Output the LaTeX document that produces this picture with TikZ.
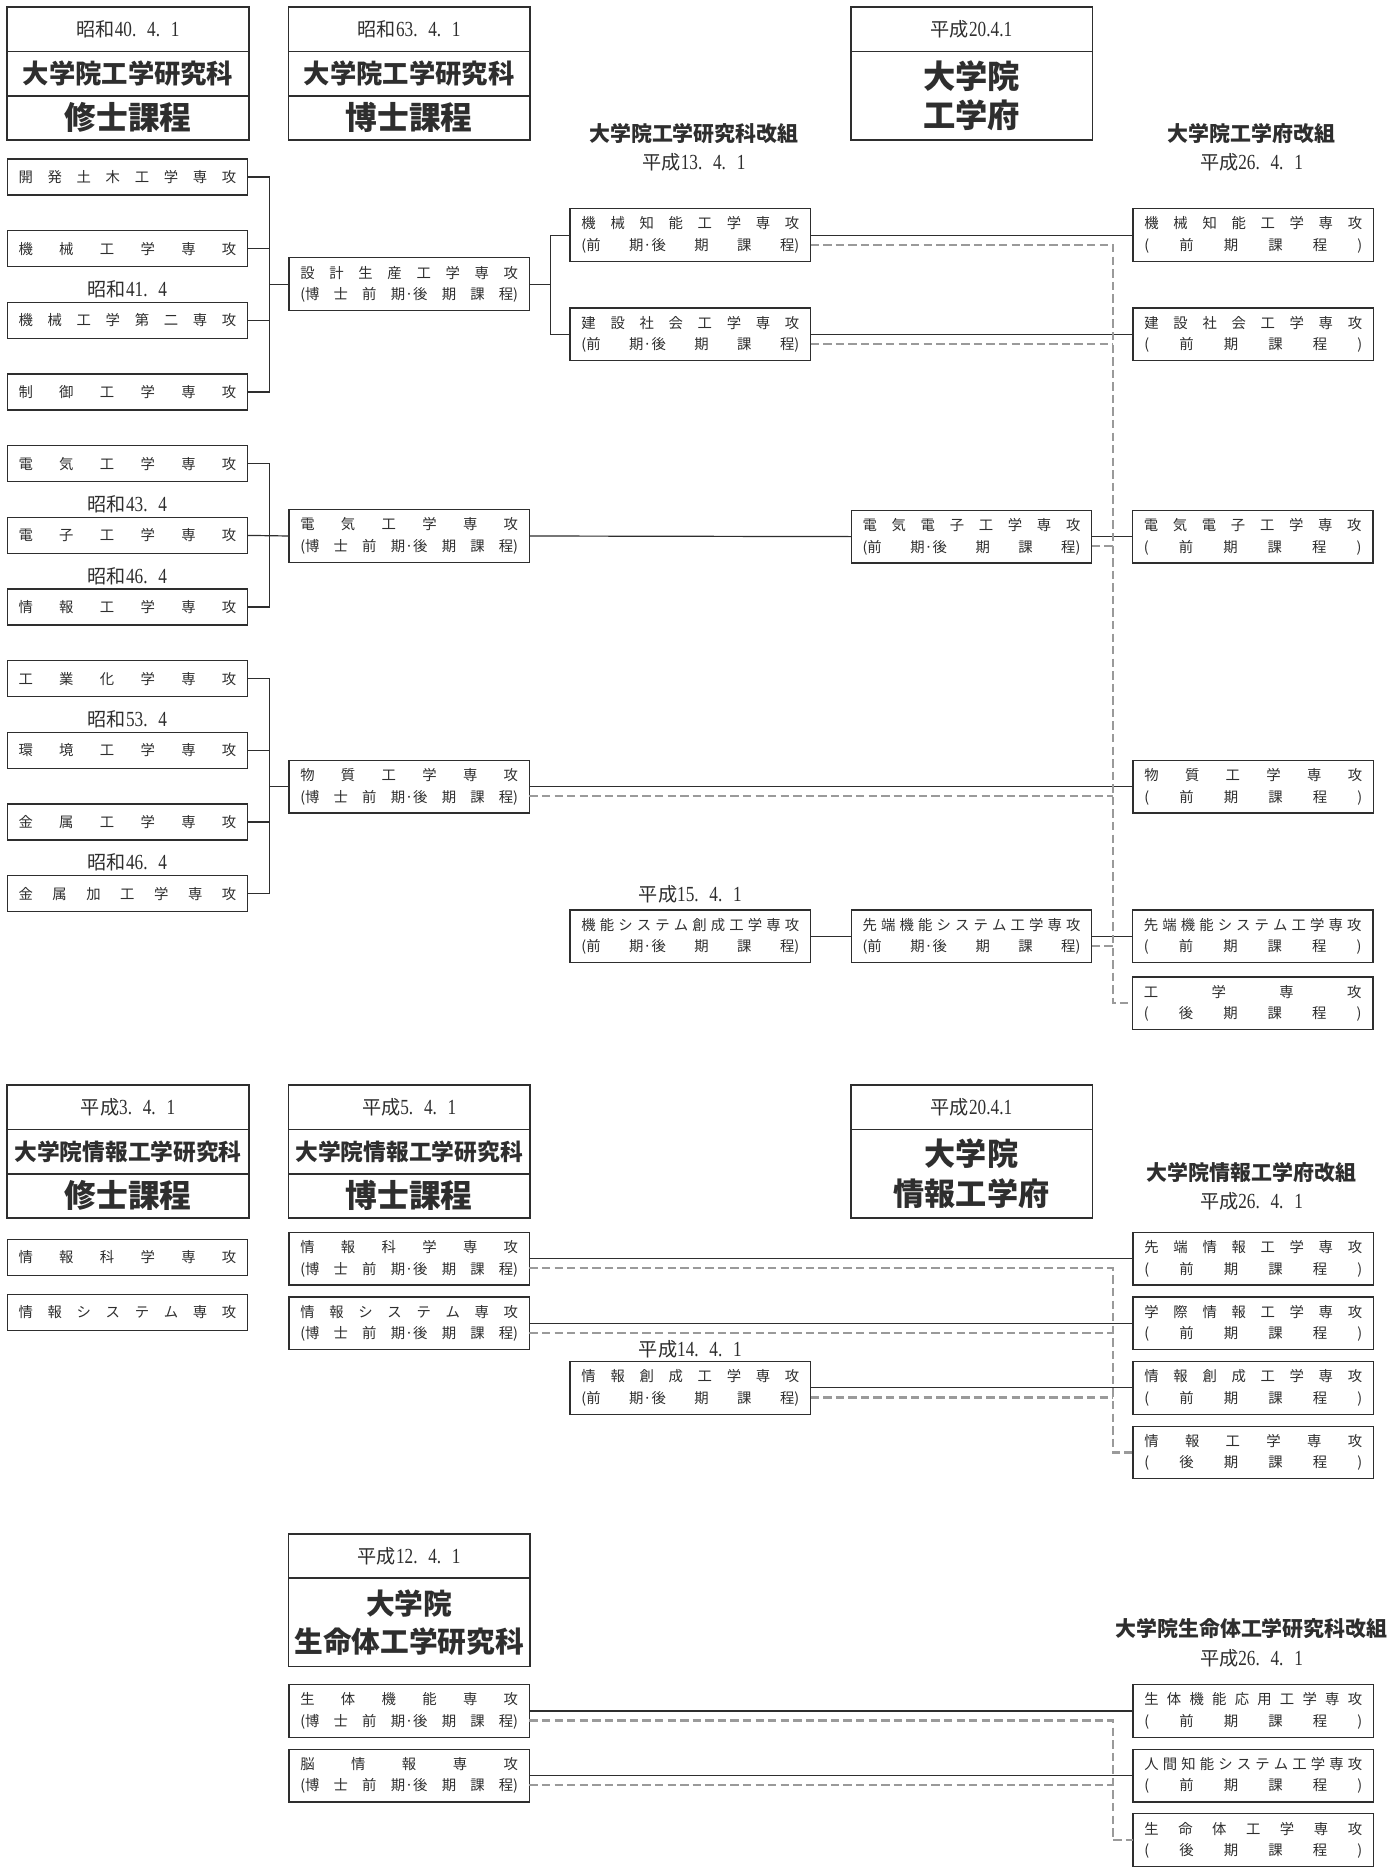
\documentclass[tikz,border=0pt]{standalone}
\usepackage{fontspec}
\setmainfont{Liberation Serif}
\newfontfamily\jpfont{Noto Sans CJK JP}
\newfontfamily\digitfont[FakeStretch=0.8]{Liberation Serif}
\usetikzlibrary{positioning}
\definecolor{ink}{HTML}{2E2E2E}
\definecolor{trace}{HTML}{9A9A9A}
\newlength\txtw \setlength\txtw{182pt}
\makeatletter
\newcommand\spread[1]{\def\sp@sep{\def\sp@sep{\hfill}}\@tfor\sp@item:=#1\do{\sp@sep\sp@item}}
\makeatother
\newcommand\one[1]{\makebox[\txtw][s]{\spread{#1}}}
\newcommand\era[2]{{\fontsize{16}{18}\selectfont#1}{\digitfont\fontsize{18}{18}\selectfont#2}}
\newcommand\hakase{\one{{(博}士前{期·後}期課{程)}}}
\newcommand\zenkou{\one{{(前}{期·後}期課{程)}}}
\newcommand\zenki{\one{(前期課程)}}
\newcommand\kouki{\one{(後期課程)}}

\begin{document}
\begin{tikzpicture}[x=1pt, y=-1pt, node distance=29.9pt and 34pt,
  every node/.style={font=\jpfont\fontsize{12}{18}\selectfont, text=ink},
  head/.style={draw=ink, line width=1.4pt, outer sep=0pt, minimum width=202pt, minimum height=37pt, inner sep=0pt},
  dept/.style={font=\jpfont\bfseries\fontsize{22}{26}\selectfont},
  degree/.style={font=\jpfont\bfseries\fontsize{26.5}{30}\selectfont},
  school/.style={head, minimum height=74pt, align=center, font=\jpfont\bfseries\fontsize{27}{33}\selectfont},
  kaiso/.style={font=\jpfont\bfseries\fontsize{17.5}{20}\selectfont},
  major/.style={draw=ink, line width=1.1pt, outer sep=0pt, minimum width=201pt, minimum height=30pt, inner sep=0pt},
  course/.style={major, minimum height=44pt, align=center},
  wire/.style={draw=ink, line width=1pt},
  moved/.style={draw=trace, line width=1.8pt, dash pattern=on 7pt off 3.5pt}]
\path[use as bounding box, fill=white] (0,0) rectangle (1163,1568);
\coordinate (brk1) at (225,0);
\coordinate (brk2) at (460,0);
\coordinate (trunk) at (930,0);

% engineering, headers
\node[head] (msdate) at (107,24.5) {\era{昭和}{40.\enspace4.\enspace1}};
\node[head,dept,below=0pt of msdate] (msname) {大学院工学研究科};
\node[head,degree,below=0pt of msname] (mscourse) {修士課程};
\node[head] (drdate) at (342,24.5) {\era{昭和}{63.\enspace4.\enspace1}};
\node[head,dept,below=0pt of drdate] (drname) {大学院工学研究科};
\node[head,degree,below=0pt of drname] (drcourse) {博士課程};
\node[head] (fudate) at (812,24.5) {\era{平成}{20.4.1}};
\node[school,below=0pt of fudate] (funame) {大学院\\工学府};
\node[kaiso] (kaisoK) at (580,112) {大学院工学研究科改組};
\node (h13) at (580,136) {\era{平成}{13.\enspace4.\enspace1}};
\node[kaiso] (kaisoF) at (1046,112) {大学院工学府改組};
\node (h26a) at (1046,136) {\era{平成}{26.\enspace4.\enspace1}};

% master's majors
\node[major] (kaihatsu) at (106.5,148) {\one{開発土木工学専攻}};
\node[major,below=of kaihatsu] (kikai) {\one{機械工学専攻}};
\node[major,below=of kikai] (kikai2) {\one{機械工学第二専攻}};
\node[major,below=of kikai2] (seigyo) {\one{制御工学専攻}};
\node[major,below=of seigyo] (denki) {\one{電気工学専攻}};
\node[major,below=of denki] (denshi) {\one{電子工学専攻}};
\node[major,below=of denshi] (jouhou) {\one{情報工学専攻}};
\node[major,below=of jouhou] (kougyou) {\one{工業化学専攻}};
\node[major,below=of kougyou] (kankyou) {\one{環境工学専攻}};
\node[major,below=of kankyou] (kinzoku) {\one{金属工学専攻}};
\node[major,below=of kinzoku] (kakou) {\one{金属加工学専攻}};
\node (s41) at ([yshift=11pt]kikai2.north) {\era{昭和}{41.\enspace4}};
\node (s43) at ([yshift=11pt]denshi.north) {\era{昭和}{43.\enspace4}};
\node (s46a) at ([yshift=11pt]jouhou.north) {\era{昭和}{46.\enspace4}};
\node (s53) at ([yshift=11pt]kankyou.north) {\era{昭和}{53.\enspace4}};
\node (s46b) at ([yshift=11pt]kakou.north) {\era{昭和}{46.\enspace4}};

% doctoral and later majors
\node[course] (setsu) at (342,237.5) {\one{設計生産工学専攻}\\\hakase};
\node[course] (denkiB) at (342,448) {\one{電気工学専攻}\\\hakase};
\node[course] (butsuB) at (342,657.5) {\one{物質工学専攻}\\\hakase};
\node[course] (kikaiC) at (577,196.5) {\one{機械知能工学専攻}\\\zenkou};
\node[course] (kensetsuC) at (577,279.5) {\one{建設社会工学専攻}\\\zenkou};
\node[course] (kinouC) at (577,782.5) {\one{機能システム創成工学専攻}\\\zenkou};
\node (h15) at ([yshift=13pt]kinouC.north) {\era{平成}{15.\enspace4.\enspace1}};
\node[course] (denkiD) at (812,448.5) {\one{電気電子工学専攻}\\\zenkou};
\node[course,right=of kinouC] (sentanD) {\one{先端機能システム工学専攻}\\\zenkou};
\node[course] (kikaiE) at (1047.5,196.5) {\one{機械知能工学専攻}\\\zenki};
\node[course] (kensetsuE) at (1047.5,279.5) {\one{建設社会工学専攻}\\\zenki};
\node[course,right=of denkiD] (denkiE) {\one{電気電子工学専攻}\\\zenki};
\node[course] (butsuE) at (1047.5,657.5) {\one{物質工学専攻}\\\zenki};
\node[course,right=of sentanD] (sentanE) {\one{先端機能システム工学専攻}\\\zenki};
\node[course,below=12pt of sentanE] (kougakuE) {\one{工学専攻}\\\kouki};

\draw[wire] (kaihatsu.east) -| (seigyo.east -| brk1) -- (seigyo.east);
\draw[wire] (kikai.east) -- (kikai.east -| brk1); \draw[wire] (kikai2.east) -- (kikai2.east -| brk1);
\draw[wire] (setsu.west -| brk1) -- (setsu.west);
\draw[wire] (denki.east) -| (jouhou.east -| brk1) -- (jouhou.east);
\draw[wire] (denshi.east) -- (denkiB.west);
\draw[wire] (kougyou.east) -| (kakou.east -| brk1) -- (kakou.east);
\draw[wire] (kankyou.east) -- (kankyou.east -| brk1); \draw[wire] (kinzoku.east) -- (kinzoku.east -| brk1);
\draw[wire] (butsuB.west -| brk1) -- (butsuB.west);
\draw[wire] (setsu.east) -- (setsu.east -| brk2);
\draw[wire] (kikaiC.west) -| (kensetsuC.west -| brk2) -- (kensetsuC.west);
\draw[wire] (kikaiC.east) -- (kikaiE.west); \draw[wire] (kensetsuC.east) -- (kensetsuE.west);
\draw[wire] (denkiB.east) -- (denkiD.west); \draw[wire] (denkiD.east) -- (denkiE.west);
\draw[wire] (butsuB.east) -- (butsuE.west);
\draw[wire] (kinouC.east) -- (sentanD.west); \draw[wire] (sentanD.east) -- (sentanE.west);

\coordinate (kikaiCd) at ([yshift=-8pt]kikaiC.east);
\coordinate (kensetsuCd) at ([yshift=-8pt]kensetsuC.east);
\coordinate (denkiDd) at ([yshift=-8pt]denkiD.east);
\coordinate (butsuBd) at ([yshift=-8pt]butsuB.east);
\coordinate (sentanDd) at ([yshift=-8pt]sentanD.east);
\draw[moved] (kikaiCd) -| (kougakuE.west -| trunk) -- (kougakuE.west);
\draw[moved] (kensetsuCd) -- (kensetsuCd -| trunk);
\draw[moved] (denkiDd) -- (denkiDd -| trunk);
\draw[moved] (butsuBd) -- (butsuBd -| trunk);
\draw[moved] (sentanDd) -- (sentanDd -| trunk);

% information engineering
\node[head] (imdate) at (107,925.5) {\era{平成}{3.\enspace4.\enspace1}};
\node[head,dept,font=\jpfont\bfseries\fontsize{19}{22}\selectfont,below=0pt of imdate] (imname) {大学院情報工学研究科};
\node[head,degree,below=0pt of imname] (imcourse) {修士課程};
\node[head] (iddate) at (342,925.5) {\era{平成}{5.\enspace4.\enspace1}};
\node[head,dept,font=\jpfont\bfseries\fontsize{19}{22}\selectfont,below=0pt of iddate] (idname) {大学院情報工学研究科};
\node[head,degree,below=0pt of idname] (idcourse) {博士課程};
\node[head] (ifdate) at (812,925.5) {\era{平成}{20.4.1}};
\node[school,font=\jpfont\bfseries\fontsize{26}{33}\selectfont,below=0pt of ifdate] (ifname) {大学院\\情報工学府};
\node[kaiso] (kaisoI) at (1046,980) {大学院情報工学府改組};
\node (h26b) at (1046,1004) {\era{平成}{26.\enspace4.\enspace1}};

\node[major] (jkagaku) at (106.5,1051) {\one{情報科学専攻}};
\node[major,below=16pt of jkagaku] (jsys) {\one{情報システム専攻}};
\node[course] (jkagakuB) at (342,1052) {\one{情報科学専攻}\\\hakase};
\node[course,below=10pt of jkagakuB] (jsysB) {\one{情報システム専攻}\\\hakase};
\node[course] (jsouseiC) at (577,1160) {\one{情報創成工学専攻}\\\zenkou};
\node (h14) at ([yshift=10pt]jsouseiC.north) {\era{平成}{14.\enspace4.\enspace1}};
\node[course] (senjE) at (1047.5,1052) {\one{先端情報工学専攻}\\\zenki};
\node[course,below=10pt of senjE] (gakusaiE) {\one{学際情報工学専攻}\\\zenki};
\node[course,below=10pt of gakusaiE] (jsouseiE) {\one{情報創成工学専攻}\\\zenki};
\node[course,below=10pt of jsouseiE] (jkouE) {\one{情報工学専攻}\\\kouki};

\draw[wire] (jkagakuB.east) -- (senjE.west); \draw[wire] (jsysB.east) -- (gakusaiE.west);
\draw[wire] (jsouseiC.east) -- (jsouseiE.west);
\coordinate (jkagakuBd) at ([yshift=-8pt]jkagakuB.east);
\coordinate (jsysBd) at ([yshift=-8pt]jsysB.east);
\coordinate (jsouseiCd) at ([yshift=-8pt]jsouseiC.east);
\draw[moved] (jkagakuBd) -| (jkouE.west -| trunk) -- (jkouE.west);
\draw[moved] (jsysBd) -- (jsysBd -| trunk);
\draw[moved] (jsouseiCd) -- (jsouseiCd -| trunk);

% life science
\node[head] (lsdate) at (342,1300.5) {\era{平成}{12.\enspace4.\enspace1}};
\node[school,font=\jpfont\bfseries\fontsize{24}{32}\selectfont,below=0pt of lsdate] (lsname) {大学院\\生命体工学研究科};
\node[kaiso] (kaisoL) at (1046,1361) {大学院生命体工学研究科改組};
\node (h26c) at (1046,1386) {\era{平成}{26.\enspace4.\enspace1}};

\node[course] (seitaiB) at (342,1430) {\one{生体機能専攻}\\\hakase};
\node[course,below=10pt of seitaiB] (nouB) {\one{脳情報専攻}\\\hakase};
\node[course] (ouyouE) at (1047.5,1430) {\one{生体機能応用工学専攻}\\\zenki};
\node[course,below=10pt of ouyouE] (ningenE) {\one{人間知能システム工学専攻}\\\zenki};
\node[course,below=10pt of ningenE] (seimeiE) {\one{生命体工学専攻}\\\kouki};

\draw[wire] (seitaiB.east) -- (ouyouE.west); \draw[wire] (nouB.east) -- (ningenE.west);
\coordinate (seitaiBd) at ([yshift=-8pt]seitaiB.east);
\coordinate (nouBd) at ([yshift=-8pt]nouB.east);
\draw[moved] (seitaiBd) -| (seimeiE.west -| trunk) -- (seimeiE.west);
\draw[moved] (nouBd) -- (nouBd -| trunk);
\end{tikzpicture}
\end{document}
